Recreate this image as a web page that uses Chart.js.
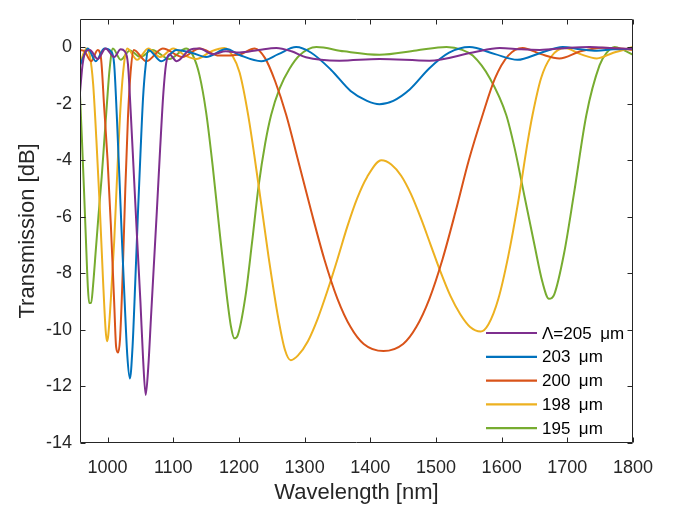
<!DOCTYPE html>
<html><head><meta charset="utf-8">
<script src="https://cdn.jsdelivr.net/npm/chart.js@4.4.0/dist/chart.umd.min.js"></script>
<style>html,body{margin:0;padding:0;background:#fff}#wrap{width:673px;height:506px}</style>
</head><body><div id="wrap"><canvas id="c" width="673" height="506"></canvas></div>
<script>
// Wavelength [nm] / Transmission [dB] samples
const wl205 = [958, 962, 967, 973, 985, 997, 1010, 1020, 1026, 1031, 1035, 1040, 1045, 1050, 1054, 1058, 1062, 1066, 1070, 1075, 1080, 1085, 1089, 1094, 1105, 1125, 1140, 1160, 1180, 1201, 1230, 1257, 1280, 1302, 1353, 1414, 1490, 1556, 1597, 1630, 1658, 1700, 1734, 1770, 1800];
const t205  = [-1.6, -0.6, -0.15, -0.1, -0.42, -0.05, -0.35, -0.08, -0.15, -0.6, -2.2, -4.5, -6.8, -9.0, -11.0, -12.3, -11.3, -9.6, -7.9, -5.8, -3.6, -1.6, -0.6, -0.25, -0.5, -0.1, -0.05, -0.25, -0.15, -0.19, -0.1, -0.03, -0.15, -0.36, -0.48, -0.42, -0.48, -0.19, -0.03, -0.08, -0.1, -0.03, 0, -0.04, -0.07];

const wl203 = [958, 964, 970, 982, 995, 1005, 1010, 1014, 1018, 1022, 1026, 1030, 1034, 1038, 1042, 1046, 1050, 1054, 1058, 1062, 1082, 1105, 1128, 1150, 1181, 1201, 1234, 1260, 1287, 1310, 1340, 1370, 1395, 1414, 1435, 1460, 1490, 1520, 1551, 1590, 1624, 1660, 1693, 1720, 1745, 1770, 1800];
const t203  = [-0.65, -0.3, -0.05, -0.5, -0.05, -0.15, -0.6, -2.4, -4.6, -6.9, -9.0, -10.9, -11.72, -10.6, -8.4, -6.0, -3.8, -1.8, -0.65, -0.1, -0.5, -0.1, -0.2, -0.35, -0.07, -0.28, -0.5, -0.25, 0, -0.2, -0.8, -1.55, -1.9, -2.02, -1.9, -1.5, -0.75, -0.2, 0, -0.25, -0.45, -0.2, 0, -0.08, -0.13, -0.08, -0.07];

const wl200 = [958, 965, 975, 985, 990, 995, 1000, 1005, 1010, 1013, 1016, 1019, 1023, 1027, 1031, 1035, 1040, 1059, 1084, 1114, 1140, 1170, 1200, 1224, 1240, 1255, 1272, 1290, 1310, 1330, 1350, 1370, 1390, 1420, 1450, 1470, 1490, 1510, 1530, 1550, 1571, 1590, 1610, 1632, 1660, 1688, 1720, 1754, 1780, 1800];
const t200  = [-0.1, -0.15, -0.5, -0.1, -0.4, -2.2, -4.0, -6.3, -9.0, -10.6, -10.8, -10.3, -8.0, -5.0, -2.5, -0.9, -0.1, -0.5, -0.05, -0.35, -0.05, -0.3, -0.27, -0.05, -0.4, -1.2, -2.4, -4.0, -5.8, -7.5, -8.9, -9.9, -10.5, -10.75, -10.5, -9.9, -8.9, -7.5, -5.8, -4.0, -2.4, -1.1, -0.3, -0.03, -0.25, -0.4, -0.15, -0.02, -0.05, -0.1];

const wl198 = [958, 963, 968, 973, 978, 983, 988, 993, 997, 999, 1001, 1005, 1010, 1015, 1020, 1025, 1030, 1045, 1062, 1080, 1100, 1118, 1135, 1158, 1178, 1190, 1201, 1214, 1230, 1245, 1260, 1270, 1279, 1290, 1305, 1320, 1335, 1350, 1365, 1380, 1395, 1417, 1432, 1447, 1462, 1477, 1492, 1507, 1522, 1537, 1552, 1568, 1580, 1595, 1610, 1625, 1640, 1647, 1660, 1675, 1696, 1720, 1745, 1770, 1800];
const t198  = [-0.6, -0.25, -0.05, -0.3, -1.3, -3.3, -5.6, -8.2, -10.0, -10.4, -10.2, -8.9, -6.9, -4.3, -2.0, -0.6, -0.05, -0.45, -0.05, -0.35, -0.05, -0.3, -0.42, -0.15, -0.03, -0.3, -0.9, -2.4, -4.9, -7.4, -9.6, -10.7, -11.07, -10.9, -10.4, -9.6, -8.6, -7.5, -6.35, -5.35, -4.6, -4.0, -4.15, -4.55, -5.2, -6.05, -7.0, -7.95, -8.8, -9.45, -9.9, -10.06, -9.8, -8.9, -7.4, -5.5, -3.3, -2.4, -1.1, -0.35, -0.03, -0.25, -0.4, -0.2, 0];

const wl195 = [958, 961, 964, 967, 970, 972, 975, 978, 982, 986, 991, 995, 999, 1003, 1008, 1020, 1034, 1050, 1068, 1094, 1120, 1130, 1140, 1150, 1160, 1170, 1180, 1188, 1193, 1198, 1210, 1220, 1230, 1240, 1249, 1262, 1277, 1292, 1318, 1360, 1414, 1470, 1516, 1540, 1556, 1582, 1607, 1620, 1635, 1650, 1662, 1672, 1680, 1695, 1710, 1729, 1749, 1760, 1772, 1785, 1800];
const t195  = [-1.7, -3.3, -5.0, -6.8, -8.5, -9.05, -9.05, -8.4, -7.2, -6.0, -4.6, -3.3, -2.0, -0.8, -0.05, -0.45, -0.12, -0.35, -0.1, -0.42, -0.05, -0.3, -1.0, -2.3, -4.2, -6.4, -8.5, -9.9, -10.3, -10.2, -8.8, -6.9, -4.9, -3.4, -2.4, -1.46, -0.77, -0.3, 0, -0.15, -0.27, -0.12, 0, -0.1, -0.3, -1.1, -2.4, -3.6, -5.3, -7.0, -8.3, -8.9, -8.75, -7.3, -5.2, -2.4, -0.65, -0.2, 0, -0.1, -0.27];

const seriesLabels = ['\u039B=205\u2002\u03BCm', '203\u2002\u03BCm', '200\u2002\u03BCm', '198\u2002\u03BCm', '195\u2002\u03BCm'];
const seriesColors = ['#7E2F8E', '#0072BD', '#D95319', '#EDB120', '#77AC30'];
const xTicks = [1000, 1100, 1200, 1300, 1400, 1500, 1600, 1700, 1800];
const yTicks = [0, -2, -4, -6, -8, -10, -12, -14];

const xs = [wl205, wl203, wl200, wl198, wl195];
const ys = [t205, t203, t200, t198, t195];

const datasets = xs.map((wx, i) => ({
  label: seriesLabels[i],
  data: wx.map((x, j) => ({x: x, y: ys[i][j]})),
  borderColor: seriesColors[i],
  backgroundColor: seriesColors[i],
  borderWidth: 2,
  pointRadius: 0,
  fill: false,
  cubicInterpolationMode: 'monotone'
}));

const FONT = '"Liberation Sans", Arial, Helvetica, sans-serif';
const AX = '#262626';

const framePlugin = {
  id: 'frame',
  afterDatasetsDraw(chart) {
    const {ctx, chartArea: a, scales} = chart;
    ctx.save();
    ctx.strokeStyle = AX;
    ctx.lineWidth = 1;
    const L = Math.round(a.left) + 0.5, R = Math.round(a.right) - 0.5;
    const T = Math.round(a.top) + 0.5, B = Math.round(a.bottom) - 0.5;
    ctx.beginPath();
    ctx.rect(L, T, R - L, B - T);
    const tl = 5;
    xTicks.forEach(v => {
      const px = Math.round(scales.x.getPixelForValue(v)) + 0.5;
      ctx.moveTo(px, B); ctx.lineTo(px, B - tl);
      ctx.moveTo(px, T); ctx.lineTo(px, T + tl);
    });
    yTicks.forEach(v => {
      const py = Math.round(scales.y.getPixelForValue(v)) + 0.5;
      ctx.moveTo(L, py); ctx.lineTo(L + tl, py);
      ctx.moveTo(R, py); ctx.lineTo(R - tl, py);
    });
    ctx.stroke();

    // legend inside lower-right
    chart.data.datasets.forEach((ds, i) => {
      const y = a.bottom - 110 + i * 23.8;
      ctx.strokeStyle = ds.borderColor;
      ctx.lineWidth = 2.2;
      ctx.beginPath();
      ctx.moveTo(a.right - 147, y); ctx.lineTo(a.right - 96, y);
      ctx.stroke();
      ctx.fillStyle = '#000';
      ctx.font = '17px ' + FONT;
      ctx.textBaseline = 'middle';
      ctx.textAlign = 'left';
      ctx.fillText(ds.label, a.right - 91, y + 1);
    });
    ctx.restore();
  }
};

new Chart(document.getElementById('c'), {
  type: 'line',
  data: {datasets: datasets},
  options: {
    responsive: false,
    animation: false,
    devicePixelRatio: 1,
    layout: {padding: {left: 0, top: 12, right: 40, bottom: 0}},
    plugins: {legend: {display: false}, tooltip: {enabled: false}},
    scales: {
      x: {
        type: 'linear', min: 958, max: 1800,
        afterBuildTicks: s => { s.ticks = xTicks.map(v => ({value: v})); },
        afterFit: s => { s.height = 63; },
        grid: {display: false, drawTicks: false},
        border: {display: false},
        ticks: {color: AX, padding: 14, font: {family: FONT, size: 18}, maxRotation: 0, autoSkip: false, callback: v => String(v)},
        title: {display: true, text: 'Wavelength [nm]', color: AX, font: {family: FONT, size: 22}, padding: {top: 0, bottom: 0}}
      },
      y: {
        type: 'linear', min: -14, max: 1,
        afterBuildTicks: s => { s.ticks = yTicks.map(v => ({value: v})); },
        afterFit: s => { s.width = 80; },
        grid: {display: false, drawTicks: false},
        border: {display: false},
        ticks: {color: AX, padding: 8, font: {family: FONT, size: 18}, autoSkip: false, callback: v => String(v)},
        title: {display: true, text: 'Transmission [dB]', color: AX, font: {family: FONT, size: 22}, padding: {top: 15, bottom: 0}}
      }
    }
  },
  plugins: [framePlugin]
});
</script>
</body></html>
